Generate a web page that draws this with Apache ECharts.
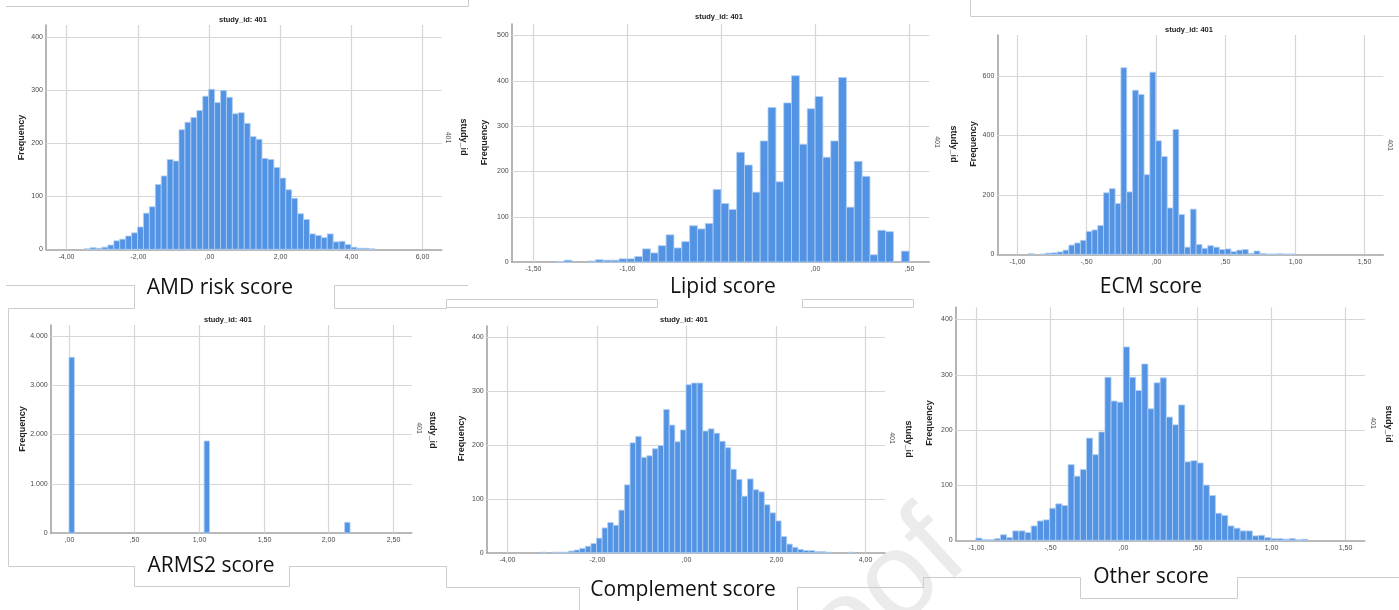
<!DOCTYPE html>
<html>
<head>
<meta charset="utf-8">
<script src="https://cdn.jsdelivr.net/npm/echarts@6/dist/echarts.min.js"></script>
<style>
  html, body { margin: 0; padding: 0; background: #ffffff; }
  #chart { width: 1399px; height: 610px; }
</style>
</head>
<body>
<div id="chart"></div>
<script>
// ---- AMD risk score (bin width 1/6) ----
const amdBinStart = -3.5;
const amdBinWidth = 1 / 6;
const amdCounts = [1, 3, 2, 4, 8, 16, 19, 25, 31, 42, 68, 80, 122, 138, 169, 166, 225, 239, 248, 261, 288,
  301, 276, 299, 286, 255, 257, 237, 212, 207, 171, 169, 154, 134, 112, 96, 67, 56, 29, 26, 22, 29, 14, 15, 9, 4, 2, 2, 1];
const amdXTicks = [-4, -2, 0, 2, 4, 6];
const amdXLabels = ['-4,00', '-2,00', ',00', '2,00', '4,00', '6,00'];
const amdYTicks = [0, 100, 200, 300, 400];
const amdYLabels = ['0', '100', '200', '300', '400'];

// ---- Lipid score (bin width 1/24) ----
const lipidBinStart = -1.375;
const lipidBinWidth = 1 / 24;
const lipidCounts = [1, 4, 0, 0, 2, 5, 4, 4, 7, 7, 12, 29, 20, 36, 60, 31, 45, 80, 73, 85, 160, 129, 116, 242, 214, 154,
  267, 341, 177, 351, 411, 260, 338, 365, 231, 267, 407, 121, 222, 189, 16, 70, 67, 0, 24];
const lipidXTicks = [-1.5, -1, -0.5, 0, 0.5];
const lipidXLabels = ['-1,50', '-1,00', '', ',00', ',50'];
const lipidYTicks = [0, 100, 200, 300, 400, 500];
const lipidYLabels = ['0', '100', '200', '300', '400', '500'];

// ---- ECM score (bin width 1/24) ----
const ecmBinStart = -22 / 24;
const ecmBinWidth = 1 / 24;
const ecmCounts = [2, 0, 1, 4, 5, 8, 14, 31, 38, 47, 77, 82, 97, 207, 221, 171, 628, 210, 552, 538, 268, 613,
  382, 329, 156, 420, 134, 24, 152, 33, 20, 29, 24, 16, 18, 9, 14, 16, 3, 11, 3, 1, 1, 2, 1, 1];
const ecmXTicks = [-1, -0.5, 0, 0.5, 1, 1.5];
const ecmXLabels = ['-1,00', '-,50', ',00', ',50', '1,00', '1,50'];
const ecmYTicks = [0, 200, 400, 600];
const ecmYLabels = ['0', '200', '400', '600'];

// ---- ARMS2 score (three occupied bins of width 1/24) ----
const armsBinLefts = [0, 25 / 24, 51 / 24];
const armsBinWidth = 1 / 24;
const armsCounts = [3562, 1865, 217];
const armsXTicks = [0, 0.5, 1, 1.5, 2, 2.5];
const armsXLabels = [',00', ',50', '1,00', '1,50', '2,00', '2,50'];
const armsYTicks = [0, 1000, 2000, 3000, 4000];
const armsYLabels = ['0', '1.000', '2.000', '3.000', '4.000'];

// ---- Complement score (bin width 1/8) ----
const compBinStart = -3.25;
const compBinWidth = 1 / 8;
const compCounts = [1, 0, 1, 1, 1, 3, 5, 8, 12, 17, 27, 46, 56, 51, 79, 126, 204, 216, 177, 180, 193, 199, 266, 237, 206, 228,
  312, 315, 315, 226, 230, 222, 207, 195, 155, 136, 105, 137, 117, 113, 89, 74, 59, 30, 16, 10, 6, 4, 4, 2, 2, 1, 0, 0, 0, 1];
const compXTicks = [-4, -2, 0, 2, 4];
const compXLabels = ['-4,00', '-2,00', ',00', '2,00', '4,00'];
const compYTicks = [0, 100, 200, 300, 400];
const compYLabels = ['0', '100', '200', '300', '400'];

// ---- Other score (bin width 1/24) ----
const otherBinStart = -1;
const otherBinWidth = 1 / 24;
const otherCounts = [4, 1, 1, 3, 10, 5, 17, 17, 14, 26, 35, 37, 58, 66, 63, 137, 116, 128, 185, 155, 196, 295, 252, 250,
  350, 295, 271, 319, 238, 285, 294, 223, 209, 245, 142, 144, 140, 100, 81, 49, 45, 26, 22, 17, 17, 8, 9, 5, 3, 3, 2, 3, 1, 2];
const otherXTicks = [-1, -0.5, 0, 0.5, 1, 1.5];
const otherXLabels = ['-1,00', '-,50', ',00', ',50', '1,00', '1,50'];
const otherYTicks = [0, 100, 200, 300, 400];
const otherYLabels = ['0', '100', '200', '300', '400'];

const BAR = '#5393e4';
const BAR_EDGE = '#b3cff3';
const GRID = '#d6d6d6';
const AXIS = '#a3a3a3';
const FRAME = '#cccccc';
const TICK_FONT = 'Liberation Sans';

function uniformBins(start, width, counts) {
  const out = [];
  counts.forEach((c, i) => { if (c > 0) out.push([start + i * width, start + (i + 1) * width, c]); });
  return out;
}
function explicitBins(lefts, width, counts) {
  return lefts.map((l, i) => [l, l + width, counts[i]]);
}

// panel layout: plotting rectangle in pixels + axis extents
const panels = [
  { box: [46, 25, 441.7, 249.3], x: [-4.573, 6.551], y: 422, data: uniformBins(amdBinStart, amdBinWidth, amdCounts),
    xt: amdXTicks, xl: amdXLabels, yt: amdYTicks, yl: amdYLabels },
  { box: [511.7, 24, 929.3, 262], x: [-1.612, 0.607], y: 525, data: uniformBins(lipidBinStart, lipidBinWidth, lipidCounts),
    xt: lipidXTicks, xl: lipidXLabels, yt: lipidYTicks, yl: lipidYLabels },
  { box: [997.3, 35, 1383.3, 254.3], x: [-1.140, 1.639], y: 738, data: uniformBins(ecmBinStart, ecmBinWidth, ecmCounts),
    xt: ecmXTicks, xl: ecmXLabels, yt: ecmYTicks, yl: ecmYLabels },
  { box: [50.7, 325, 411.7, 533], x: [-0.141, 2.642], y: 4217, data: explicitBins(armsBinLefts, armsBinWidth, armsCounts),
    xt: armsXTicks, xl: armsXLabels, yt: armsYTicks, yl: armsYLabels },
  { box: [486.7, 326, 885, 552.7], x: [-4.454, 4.447], y: 421, data: uniformBins(compBinStart, compBinWidth, compCounts),
    xt: compXTicks, xl: compXLabels, yt: compYTicks, yl: compYLabels },
  { box: [955.7, 307.3, 1364.7, 540.3], x: [-1.137, 1.637], y: 421.7, data: uniformBins(otherBinStart, otherBinWidth, otherCounts),
    xt: otherXTicks, xl: otherXLabels, yt: otherYTicks, yl: otherYLabels }
];

const grids = [], xAxes = [], yAxes = [], series = [];
panels.forEach((p, i) => {
  const [l, t, r, b] = p.box;
  grids.push({ left: l, top: t, width: r - l, height: b - t });
  xAxes.push({
    type: 'value', gridIndex: i, min: p.x[0], max: p.x[1],
    axisLine: { show: true, onZero: false, lineStyle: { color: AXIS, width: 1.6 } },
    axisTick: { show: false }, axisLabel: { show: false }, splitLine: { show: false }
  });
  yAxes.push({
    type: 'value', gridIndex: i, min: 0, max: p.y,
    axisLine: { show: true, onZero: false, lineStyle: { color: AXIS, width: 1.6 } },
    axisTick: { show: false }, axisLabel: { show: false }, splitLine: { show: false }
  });

  // vertical grid lines with their value labels underneath
  series.push({
    type: 'custom', xAxisIndex: i, yAxisIndex: i, z: 1, silent: true,
    data: p.xt.map(v => [v, 0]), encode: { x: 0, y: 1 },
    renderItem: (params, api) => {
      const cs = params.coordSys;
      const px = Math.round(api.coord([api.value(0), 0])[0]) + 0.5;
      return { type: 'group', children: [
        { type: 'line', shape: { x1: px, y1: cs.y, x2: px, y2: cs.y + cs.height }, style: { stroke: GRID, lineWidth: 1.2 } },
        { type: 'text', x: px, y: cs.y + cs.height + 4,
          style: { text: p.xl[params.dataIndex], align: 'center', verticalAlign: 'top',
                   fontSize: 7, fontFamily: TICK_FONT, fill: '#4a4a4a' } }
      ] };
    }
  });
  // horizontal grid lines with their value labels on the left
  series.push({
    type: 'custom', xAxisIndex: i, yAxisIndex: i, z: 1, silent: true,
    data: p.yt.map(v => [0, v]), encode: { x: 0, y: 1 },
    renderItem: (params, api) => {
      const cs = params.coordSys;
      const v = api.value(1);
      const py = Math.round(api.coord([0, v])[1]) + 0.5;
      const kids = [
        { type: 'text', x: cs.x - 3, y: py,
          style: { text: p.yl[params.dataIndex], align: 'right', verticalAlign: 'middle',
                   fontSize: 7, fontFamily: TICK_FONT, fill: '#4a4a4a' } }
      ];
      if (v !== 0) {
        kids.push({ type: 'line', shape: { x1: cs.x, y1: py, x2: cs.x + cs.width, y2: py }, style: { stroke: GRID, lineWidth: 1.2 } });
      }
      return { type: 'group', children: kids };
    }
  });
  // histogram bars
  series.push({
    type: 'custom', xAxisIndex: i, yAxisIndex: i, z: 3, silent: true,
    data: p.data, encode: { x: [0, 1], y: 2 },
    renderItem: (params, api) => {
      const a = api.coord([api.value(0), api.value(2)]);
      const b = api.coord([api.value(1), 0]);
      return { type: 'rect', shape: { x: a[0], y: a[1], width: b[0] - a[0], height: b[1] - a[1] },
               style: { fill: BAR, stroke: BAR_EDGE, lineWidth: 0.8 } };
    }
  });
});

// ---- texts ----
const titleText = 'study_id: 401';
const axisTitle = 'Frequency';
const rowName = 'study_id';
const rowValue = '401';
const captions = ['AMD risk score', 'Lipid score', 'ECM score', 'ARMS2 score', 'Complement score', 'Other score'];

const g = [];
function txt(text, x, y, opts) {
  g.push(Object.assign({ type: 'text', x: x, y: y, z: 10,
    style: Object.assign({ text: text, align: 'center', verticalAlign: 'middle', fill: '#222' }, opts.style || {}) },
    opts.rotation != null ? { rotation: opts.rotation } : {}));
}
function line(points) {
  g.push({ type: 'polyline', z: 8, shape: { points: points }, style: { stroke: FRAME, lineWidth: 1, fill: null } });
}

// faint watermark in the lower middle
g.push({ type: 'text', x: 990, y: 582, z: 0, rotation: 0.74,
  style: { text: 'Journal Pre-proof', align: 'right', verticalAlign: 'bottom',
           fontSize: 122, fontFamily: 'Liberation Sans', fill: '#ebebeb' } });

// frame lines of the surrounding boxes
line([[6, 6.5], [468.5, 6.5], [468.5, 0]]);
line([[970.5, 0], [970.5, 16.5], [1399, 16.5]]);
line([[6, 285.5], [134.5, 285.5], [134.5, 308.5], [8.5, 308.5], [8.5, 566.5], [134.5, 566.5], [134.5, 586.5],
      [289.5, 586.5], [289.5, 566.5], [446.5, 566.5], [446.5, 587.5], [579.5, 587.5], [579.5, 610]]);
line([[468, 285.5], [334.5, 285.5], [334.5, 308.5], [446.5, 308.5], [446.5, 299.5], [657.5, 299.5], [657.5, 307.5], [446.5, 307.5]]);
line([[802.5, 299.5], [913.5, 299.5], [913.5, 307.5], [802.5, 307.5], [802.5, 299.5]]);
line([[797.5, 610], [797.5, 587.5], [923.5, 587.5], [923.5, 577.5], [1080.5, 577.5], [1080.5, 598.5],
      [1237.5, 598.5], [1237.5, 577.5], [1399, 577.5]]);

// panel titles
const titleStyle = { style: { fontSize: 7.5, fontWeight: 'bold', fontFamily: 'Liberation Sans', fill: '#222' } };
txt(titleText, 243, 19.5, titleStyle);
txt(titleText, 719, 17, titleStyle);
txt(titleText, 1189, 29.5, titleStyle);
txt(titleText, 228, 319.5, titleStyle);
txt(titleText, 684, 319.5, titleStyle);

// y axis titles
const freqStyle = { rotation: Math.PI / 2, style: { fontSize: 9, fontWeight: 'bold', fontFamily: 'Liberation Sans', fill: '#222' } };
txt(axisTitle, 22, 137.5, freqStyle);
txt(axisTitle, 485, 142.5, freqStyle);
txt(axisTitle, 973.5, 144, freqStyle);
txt(axisTitle, 23, 429, freqStyle);
txt(axisTitle, 462, 438.5, freqStyle);
txt(axisTitle, 930, 423, freqStyle);

// row labels on the right of each panel
const rowNameStyle = { rotation: -Math.PI / 2, style: { fontSize: 9, fontWeight: 'bold', fontFamily: 'Liberation Sans', fill: '#222' } };
const rowValueStyle = { rotation: -Math.PI / 2, style: { fontSize: 7, fontFamily: 'Liberation Sans', fill: '#555' } };
txt(rowValue, 448, 137.5, rowValueStyle);   txt(rowName, 463.5, 137, rowNameStyle);
txt(rowValue, 937, 142, rowValueStyle);     txt(rowName, 953.5, 144, rowNameStyle);
txt(rowValue, 1390, 145, rowValueStyle);
txt(rowValue, 419, 428, rowValueStyle);     txt(rowName, 432, 430, rowNameStyle);
txt(rowValue, 892, 438, rowValueStyle);     txt(rowName, 908.5, 439, rowNameStyle);
txt(rowValue, 1372.5, 423, rowValueStyle);  txt(rowName, 1388.5, 424, rowNameStyle);

// captions
const capStyle = { style: { fontSize: 21, fontFamily: 'Open Sans', fill: '#111' } };
txt(captions[0], 220, 288, capStyle);
txt(captions[1], 723, 287, capStyle);
txt(captions[2], 1151, 287, capStyle);
txt(captions[3], 211, 566, capStyle);
txt(captions[4], 683, 590, capStyle);
txt(captions[5], 1151, 577, capStyle);

const chart = echarts.init(document.getElementById('chart'), null, { renderer: 'canvas' });
chart.setOption({
  animation: false,
  backgroundColor: '#ffffff',
  grid: grids,
  xAxis: xAxes,
  yAxis: yAxes,
  series: series,
  graphic: g
});
</script>
</body>
</html>
